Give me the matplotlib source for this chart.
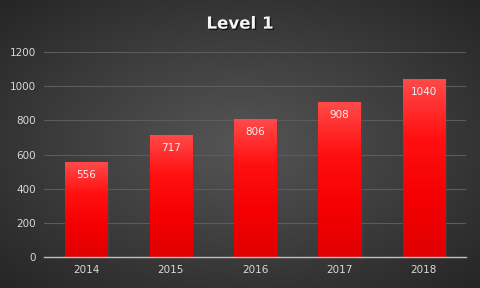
import numpy as np
import matplotlib.pyplot as plt
import matplotlib.patheffects as pe
from matplotlib.colors import LinearSegmentedColormap

years = ["2014", "2015", "2016", "2017", "2018"]
values = [556, 717, 806, 908, 1040]
title = "Level 1"

fig = plt.figure(figsize=(4.8, 2.88), dpi=100)

# radial background
bg = fig.add_axes([0, 0, 1, 1])
yy, xx = np.mgrid[-1:1:300j, -1:1:500j]
r = np.sqrt((xx * 0.9) ** 2 + (yy * 0.9) ** 2)
bg_cmap = LinearSegmentedColormap.from_list("bg", ["#555555", "#3e3e3e", "#262626"])
bg.imshow(r, cmap=bg_cmap, vmin=0, vmax=1.25, aspect="auto", extent=[0, 1, 0, 1])
bg.set_axis_off()

ax = fig.add_axes([0.092, 0.108, 0.879, 0.711])
ax.set_facecolor("none")
x = np.arange(len(years))
bars = ax.bar(x, values, width=0.5, color="none", zorder=3,
              path_effects=[pe.SimplePatchShadow(offset=(1.5, -1), alpha=0.35), pe.Normal()])

grad = np.linspace(0, 1, 256).reshape(-1, 1)
bar_cmap = LinearSegmentedColormap.from_list("bar", ["#ff4a4a", "#ff1010", "#f50000", "#e00000"])
for b in bars:
    x0, w, h = b.get_x(), b.get_width(), b.get_height()
    im = ax.imshow(grad, cmap=bar_cmap, aspect="auto", extent=[x0, x0 + w, 0, h],
                   zorder=3, origin="upper")
    im.set_clip_path(b)

for xi, v in zip(x, values):
    ax.text(xi, v - 76, str(v), ha="center", va="center", color="#f0f0f0",
            fontsize=7.5, zorder=4)

ax.set_xlim(-0.5, len(years) - 0.5)
ax.set_ylim(0, 1200)
ax.set_yticks(range(0, 1201, 200))
ax.set_xticks(x)
ax.set_xticklabels(years)
ax.grid(axis="y", color="#5c5c5c", linewidth=0.8, zorder=0)
ax.tick_params(colors="#d9d9d9", labelsize=7.5, length=0, pad=6)
for side in ["top", "right", "left"]:
    ax.spines[side].set_visible(False)
ax.spines["bottom"].set_color("#bfbfbf")
ax.spines["bottom"].set_linewidth(1.0)
ax.spines["bottom"].set_zorder(5)

fig.text(0.5, 0.918, title, ha="center", va="center", color="#f5f5f5",
         fontsize=12, fontweight="bold",
         path_effects=[pe.withSimplePatchShadow(offset=(1, -1), shadow_rgbFace="black", alpha=0.6)])

fig.savefig("out.png", dpi=100)
